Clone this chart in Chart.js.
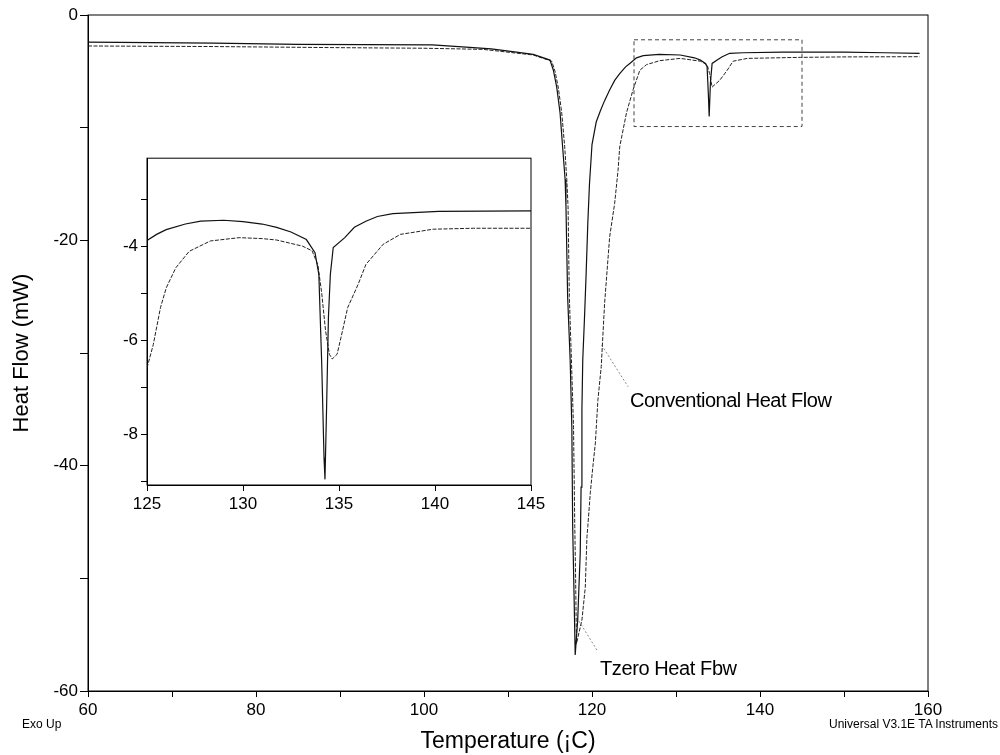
<!DOCTYPE html>
<html>
<head>
<meta charset="utf-8">
<script src="https://cdn.jsdelivr.net/npm/chart.js@4.4.0/dist/chart.umd.min.js"></script>
<style>
  body { margin: 0; background: #fff; }
  #wrap { position: relative; width: 1000px; height: 755px; font-family: 'Liberation Sans', Arial, sans-serif; color: #000; }
  #main { position: absolute; left: 0; top: 0; }
  #inset { position: absolute; left: 100px; top: 145px; }
  .lbl { position: absolute; white-space: nowrap; line-height: 1; }
</style>
</head>
<body>
<div id="wrap">
  <canvas id="main" width="1000" height="755"></canvas>
  <canvas id="inset" width="455" height="385"></canvas>
  <div class="lbl" style="left:630px; top:390px; font-size:20px; letter-spacing:-0.5px;">Conventional Heat Flow</div>
  <div class="lbl" style="left:600px; top:658px; font-size:20px; letter-spacing:-0.4px;">Tzero Heat Fbw</div>
  <div class="lbl" style="left:22px; top:718px; font-size:12px;">Exo Up</div>
  <div class="lbl" style="right:2px; top:718px; font-size:12px;">Universal V3.1E TA Instruments</div>
</div>
<script>
// main plot - Tzero heat flow
const tzeroT = [60, 75, 85, 101, 105, 108, 111, 113, 115.0, 115.4, 115.8, 116.2, 116.5, 116.8, 116.9, 117.1, 117.4, 117.6, 117.7, 117.85, 118.0,
  118.3, 118.6, 118.7, 118.8, 118.9, 119.1, 119.3, 119.5, 119.7, 120.0, 120.5, 121.0, 121.5, 122.1, 122.7, 123.3, 124.0, 124.5, 125.3, 126.1,
  128, 130.5, 132.2, 132.9, 133.5, 133.7, 133.85, 133.95, 134.1, 134.3, 134.9, 135.5, 136.4, 138, 142.7, 150, 154.9, 159];
const tzeroHF = [-2.4, -2.5, -2.6, -2.65, -2.85, -3.0, -3.3, -3.5, -4.0, -4.9, -6.4, -8.7, -11.7, -14.6, -17, -25, -30.6, -36.6, -45.4, -51, -56.8,
  -53.7, -47.7, -41.9, -35, -30.6, -27, -23, -18.5, -15, -11.5, -9.5, -8.5, -7.6, -6.65, -5.8, -5.2, -4.6, -4.3, -3.8, -3.6,
  -3.5, -3.55, -3.8, -4.0, -4.3, -4.6, -7, -9.0, -6, -4.3, -4.0, -3.7, -3.4, -3.35, -3.3, -3.3, -3.35, -3.4];

// main plot - conventional heat flow
const convT = [60, 75, 90, 100, 107, 110, 113, 115.2, 115.6, 116.0, 116.4, 116.75, 117.0, 117.15, 117.3, 117.55, 117.8, 117.95, 118.05, 118.15,
  118.8, 119.2, 119.4, 119.5, 119.8, 120.1, 120.4, 120.7, 121.1, 121.5, 122.1, 122.7, 123.1, 123.3, 124.1, 124.9, 125.7, 126.5, 128.1,
  130.5, 132.9, 133.7, 134.0, 134.3, 134.6, 135.2, 136.1, 136.8, 138.5, 144.8, 150, 159];
const convHF = [-2.75, -2.8, -2.9, -2.95, -3.05, -3.3, -3.55, -4.1, -5.0, -6.5, -8.7, -11.7, -14.6, -17, -25, -30.6, -36.6, -45.4, -50, -55.8,
  -53.7, -50.8, -46.3, -45.4, -42.4, -40.1, -38, -34.2, -31.2, -25.6, -19.7, -16.7, -13.8, -11.7, -8.7, -6.6, -4.9, -4.4, -4.05,
  -3.85, -4.1, -4.4, -5.2, -6.4, -6.2, -5.8, -4.9, -4.1, -3.85, -3.76, -3.72, -3.7];

// inset (125-145 C)
const insetTzeroT = [125.0, 125.5, 126.0, 127.0, 127.8, 129.0, 130.0, 131.0, 131.75, 132.5, 133.3, 133.75, 133.95, 134.1, 134.22, 134.27,
  134.35, 134.45, 134.55, 134.7, 135.3, 135.8, 136.4, 137.0, 137.8, 140.2, 145];
const insetTzeroHF = [-3.88, -3.75, -3.65, -3.53, -3.47, -3.45, -3.48, -3.53, -3.6, -3.7, -3.86, -4.14, -4.6, -6.5, -8.5, -8.96,
  -7.5, -5.5, -4.6, -4.03, -3.82, -3.6, -3.47, -3.37, -3.31, -3.26, -3.25];
const insetConvT = [125.0, 125.33, 125.7, 126.0, 126.5, 127.2, 128.3, 129.8, 131.0, 131.75, 133.1, 133.6, 133.9, 134.1, 134.3, 134.5, 134.65,
  134.9, 135.1, 135.45, 136.0, 136.4, 137.3, 138.2, 139.9, 142, 145];
const insetConvHF = [-6.59, -6.09, -5.31, -4.89, -4.46, -4.11, -3.89, -3.82, -3.84, -3.87, -4.0, -4.1, -4.4, -5.0, -5.8, -6.3, -6.4,
  -6.3, -5.95, -5.31, -4.81, -4.39, -3.96, -3.75, -3.64, -3.62, -3.62];

// zoom box and label pointers (data units)
const boxT = [125, 145, 145, 125, 125];
const boxHF = [-2.2, -2.2, -9.9, -9.9, -2.2];
const convPtrT = [121.15, 124.3];
const convPtrHF = [-29.3, -33.0];
const tzeroPtrT = [118.2, 120.7];
const tzeroPtrHF = [-53.5, -56.5];

// ticks
const mainXTicks = [60, 70, 80, 90, 100, 110, 120, 130, 140, 150, 160];
const mainYTicks = [0, -10, -20, -30, -40, -50, -60];
const insetXTicks = [125, 130, 135, 140, 145];
const insetYTicks = [-3, -4, -5, -6, -7, -8, -9];

const fam = "'Liberation Sans', Arial, sans-serif";
const pts = (xs, ys) => xs.map((x, i) => ({ x: x, y: ys[i] }));

const frame = {
  id: 'frame',
  afterDraw(c) {
    const a = c.chartArea, ctx = c.ctx;
    ctx.save();
    ctx.strokeStyle = '#000';
    ctx.lineWidth = 1;
    ctx.strokeRect(a.left, a.top, a.right - a.left, a.bottom - a.top);
    ctx.restore();
  }
};

function axis(min, max, ticks, labelIf, tickLen, pad, extra) {
  return Object.assign({
    type: 'linear', min: min, max: max,
    afterBuildTicks: s => { s.ticks = ticks.map(v => ({ value: v })); },
    ticks: { callback: v => labelIf(v) ? v : '', font: { size: 17, family: fam }, color: '#000', autoSkip: false, maxRotation: 0, padding: pad },
    grid: { drawOnChartArea: false, drawTicks: true, tickLength: tickLen, color: '#000' },
    border: { color: '#000', width: 1 }
  }, extra);
}

new Chart(document.getElementById('main'), {
  type: 'scatter',
  data: {
    datasets: [
      { data: pts(tzeroT, tzeroHF), showLine: true, borderColor: '#111', borderWidth: 1.2, pointRadius: 0 },
      { data: pts(convT, convHF), showLine: true, borderColor: '#222', borderWidth: 1, borderDash: [4, 1.5], pointRadius: 0 },
      { data: pts(boxT, boxHF), showLine: true, borderColor: '#444', borderWidth: 1, borderDash: [4, 3], pointRadius: 0 },
      { data: pts(convPtrT, convPtrHF), showLine: true, borderColor: '#888', borderWidth: 1, borderDash: [2, 2], pointRadius: 0 },
      { data: pts(tzeroPtrT, tzeroPtrHF), showLine: true, borderColor: '#888', borderWidth: 1, borderDash: [2, 2], pointRadius: 0 }
    ]
  },
  options: {
    responsive: false,
    animation: false,
    layout: { padding: { top: 15, right: 72, left: 0, bottom: 0 } },
    plugins: { legend: { display: false }, tooltip: { enabled: false } },
    scales: {
      x: axis(60, 160, mainXTicks, v => v % 20 === 0, 6, 3, {
        afterFit: s => { s.height = 64; },
        title: { display: true, text: 'Temperature (¡C)', font: { size: 23, family: fam }, color: '#000', padding: 0 }
      }),
      y: axis(-60, 0, mainYTicks, v => v % 20 === 0, 8, 2, {
        afterFit: s => { s.width = 88; },
        title: { display: true, text: 'Heat Flow (mW)', font: { size: 22, family: fam }, color: '#000', padding: { top: 9, bottom: 0 } }
      })
    }
  },
  plugins: [frame]
});

new Chart(document.getElementById('inset'), {
  type: 'scatter',
  data: {
    datasets: [
      { data: pts(insetTzeroT, insetTzeroHF), showLine: true, borderColor: '#111', borderWidth: 1.2, pointRadius: 0 },
      { data: pts(insetConvT, insetConvHF), showLine: true, borderColor: '#222', borderWidth: 1, borderDash: [4, 1.5], pointRadius: 0 }
    ]
  },
  options: {
    responsive: false,
    animation: false,
    layout: { padding: { top: 12, right: 24, left: 0, bottom: 0 } },
    plugins: { legend: { display: false }, tooltip: { enabled: false } },
    scales: {
      x: axis(125, 145, insetXTicks, v => true, 6, 3, { afterFit: s => { s.height = 45; } }),
      y: axis(-9.08, -2.13, insetYTicks, v => v % 2 === 0, 6, 3, { afterFit: s => { s.width = 47; } })
    }
  },
  plugins: [frame]
});
</script>
</body>
</html>
